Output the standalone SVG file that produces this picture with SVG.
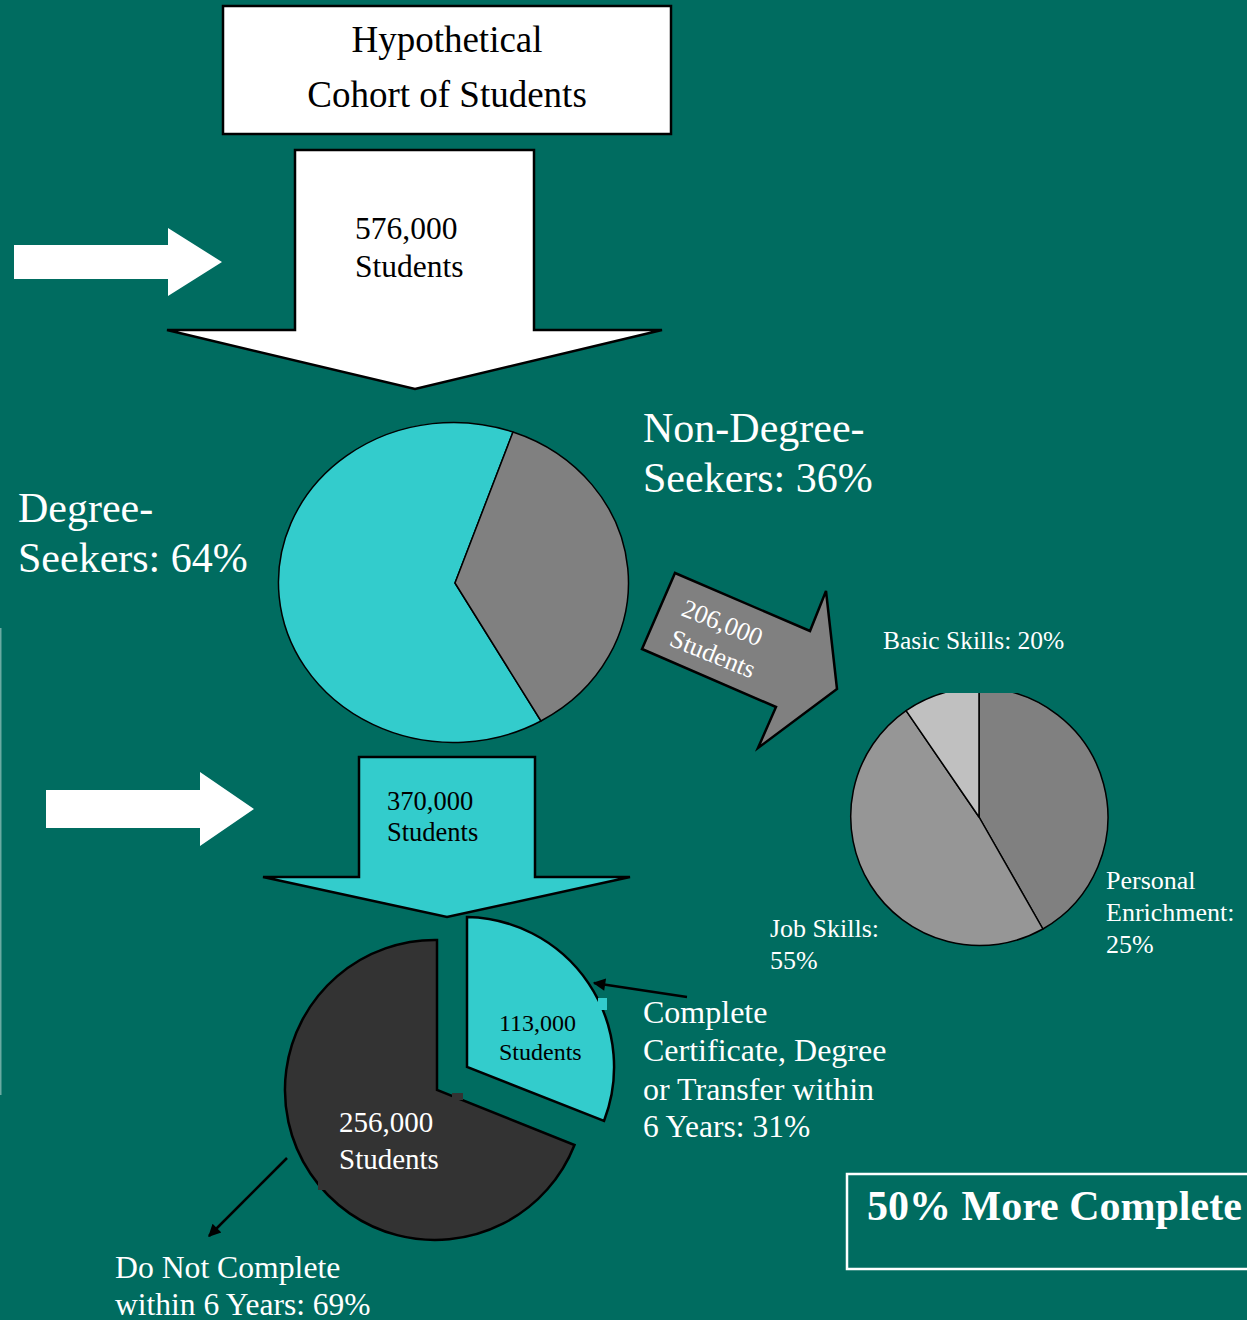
<svg xmlns="http://www.w3.org/2000/svg" width="1247" height="1320" viewBox="0 0 1247 1320">
<defs>
<style>
text{font-family:"Liberation Serif","Times New Roman",serif;}
.w{fill:#ffffff;}
.k{fill:#000000;}
.edge{stroke:#000;stroke-width:2.5;fill:none;}
.shape{stroke:#000;stroke-width:2.5;stroke-linejoin:miter;}
.pie{stroke:#000;stroke-width:1.5;stroke-linejoin:round;}
</style>
<marker id="ah" viewBox="0 0 10 10" refX="9" refY="5" markerWidth="6" markerHeight="5" orient="auto" markerUnits="strokeWidth">
<path d="M0,0 L10,5 L0,10 Z" fill="#000"/>
</marker>
<clipPath id="smallclip"><rect x="800" y="693" width="350" height="300"/></clipPath>
</defs>
<rect x="0" y="0" width="1247" height="1320" fill="#006C60"/>
<rect x="0" y="628" width="1.5" height="467" fill="#6aaaa2"/>

<g id="cohort-box">
<rect x="223" y="6" width="448" height="128" fill="#fff" stroke="#000" stroke-width="2.5"/>
<text x="447" y="52" font-size="37" text-anchor="middle" class="k">Hypothetical</text>
<text x="447" y="107" font-size="37" text-anchor="middle" class="k">Cohort of Students</text>
</g>

<g id="arrow-576">
<polygon class="shape" points="295,150 534,150 534,330 662,330 415,389 167,330 295,330" fill="#fff"/>
<text x="355" y="239" font-size="31.5" class="k">576,000</text>
<text x="355" y="277" font-size="31.5" class="k">Students</text>
</g>

<g id="white-arrow-1">
<polygon points="14,245 168,245 168,228 222,262 168,296 168,279 14,279" fill="#fff"/>
</g>

<g id="white-arrow-2">
<polygon points="46,790 200,790 200,772 254,809 200,846 200,828 46,828" fill="#fff"/>
</g>

<g id="main-pie">
<path class="pie" d="M455,583 L541,721 A175,160 0 1,1 513,432 Z" fill="#33CCCC"/>
<path class="pie" d="M455,583 L513,432 A175,160 0 0,1 541,721 Z" fill="#808080"/>
</g>

<g id="label-degree">
<text x="18" y="522" font-size="42" class="w">Degree-</text>
<text x="18" y="572" font-size="42" class="w">Seekers: 64%</text>
</g>

<g id="label-nondegree">
<text x="643" y="442" font-size="42" class="w">Non-Degree-</text>
<text x="643" y="492" font-size="42" class="w">Seekers: 36%</text>
</g>

<g id="arrow-206">
<polygon class="shape" points="675,573 810,631 826,591 837,689 758,748 776,707 642,649" fill="#808080"/>
<g transform="rotate(22 680 615)">
<text x="680" y="615" font-size="26" class="w">206,000</text>
</g>
<g transform="rotate(22 668 645)">
<text x="668" y="645" font-size="26" class="w">Students</text>
</g>
</g>

<g id="small-pie" clip-path="url(#smallclip)">
<path class="pie" d="M979,817 L979,688 A129,129 0 0,1 1042.9,929 Z" fill="#808080"/>
<path class="pie" d="M979,817 L1042.9,929 A129,129 0 0,1 906.1,710.6 Z" fill="#969696"/>
<path class="pie" d="M979,817 L906.1,710.6 A129,129 0 0,1 979,688 Z" fill="#C0C0C0"/>
</g>

<g id="label-basic">
<text x="883" y="649" font-size="25.5" class="w">Basic Skills: 20%</text>
</g>
<g id="label-personal">
<text x="1106" y="889" font-size="26" class="w">Personal</text>
<text x="1106" y="921" font-size="26" class="w">Enrichment:</text>
<text x="1106" y="953" font-size="26" class="w">25%</text>
</g>
<g id="label-job">
<text x="770" y="937" font-size="26" class="w">Job Skills:</text>
<text x="770" y="969" font-size="26" class="w">55%</text>
</g>

<g id="arrow-370">
<polygon class="shape" points="359,757 535,757 535,877 630,877 447,917 263,877 359,877" fill="#33CCCC"/>
<text x="387" y="810" font-size="26.5" class="k">370,000</text>
<text x="387" y="841" font-size="26.5" class="k">Students</text>
</g>

<g id="bottom-pie-dark">
<path class="shape" d="M437,1090 L437,940 A150,150 0 1,0 574.5,1145 Z" fill="#333333"/>
<rect x="452" y="1093" width="11" height="7" fill="#333333"/>
<rect x="318" y="1181" width="8" height="9" fill="#333333"/>
<text x="339" y="1132" font-size="29" class="w">256,000</text>
<text x="339" y="1169" font-size="29" class="w">Students</text>
</g>

<g id="bottom-pie-cyan">
<path class="shape" d="M467,1067 L467,917 A150,150 0 0,1 604,1121 Z" fill="#33CCCC"/>
<rect x="598" y="998" width="9" height="12" fill="#33CCCC"/>
<text x="499" y="1031" font-size="24" class="k">113,000</text>
<text x="499" y="1060" font-size="24" class="k">Students</text>
</g>

<g id="label-complete">
<text x="643" y="1023" font-size="32" class="w">Complete</text>
<text x="643" y="1061" font-size="32" class="w">Certificate, Degree</text>
<text x="643" y="1100" font-size="32" class="w">or Transfer within</text>
<text x="643" y="1137" font-size="31.5" class="w">6 Years: 31%</text>
</g>

<g id="label-notcomplete">
<text x="115" y="1278" font-size="31.7" class="w">Do Not Complete</text>
<text x="115" y="1315" font-size="31.5" class="w">within 6 Years: 69%</text>
</g>

<g id="more-complete-box">
<rect x="847" y="1174" width="410" height="95" fill="none" stroke="#fff" stroke-width="2.5"/>
<text x="867" y="1220" font-size="42" font-weight="bold" class="w">50% More Complete</text>
</g>

<g id="connectors">
<line class="edge" x1="687" y1="997" x2="594" y2="983" marker-end="url(#ah)"/>
<line class="edge" x1="287" y1="1158" x2="209" y2="1236" marker-end="url(#ah)"/>
</g>
</svg>
